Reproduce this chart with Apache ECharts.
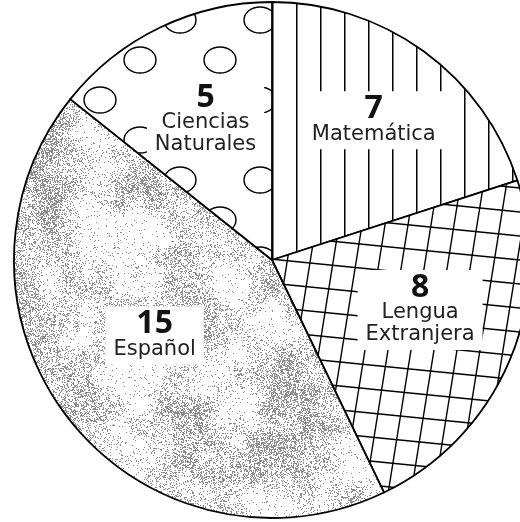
<!DOCTYPE html>
<html>
<head>
<meta charset="utf-8">
<script src="https://cdn.jsdelivr.net/npm/echarts@6/dist/echarts.min.js"></script>
<style>
  html, body { margin: 0; padding: 0; background: #fff; }
  #chart { width: 520px; height: 522px; }
</style>
</head>
<body>
<div id="chart"></div>
<script>
// Subjects and number of students per subject (clockwise from the top)
const subjects = ['Matemática', 'Lengua Extranjera', 'Español', 'Ciencias Naturales'];
const counts = [7, 8, 15, 5];

const W = 520, H = 522;
const CX = 272, CY = 260, R = 258;
// small hand-placed nudges for each label block (px)
const labelNudge = [[9, -12], [3, -12], [6, -23], [2, 2]];

// ---- fill textures -------------------------------------------------------
function makeCanvas(w, h) {
  const c = document.createElement('canvas');
  c.width = w; c.height = h;
  return c;
}

// vertical hatching
function verticalLines() {
  const c = makeCanvas(24, 4);
  const g = c.getContext('2d');
  g.fillStyle = '#fff'; g.fillRect(0, 0, 24, 4);
  g.fillStyle = '#000'; g.fillRect(8, 0, 1.5, 4);
  return c;
}

// skewed hand-drawn style mesh
function mesh() {
  const c = makeCanvas(W, H);
  const g = c.getContext('2d');
  g.fillStyle = '#fff'; g.fillRect(0, 0, W, H);
  g.strokeStyle = '#000'; g.lineWidth = 1.4;
  const gap = 24;
  for (let y0 = -200; y0 < H + 200; y0 += gap) {
    g.beginPath(); g.moveTo(0, y0); g.lineTo(W, y0 + 0.1 * W); g.stroke();
  }
  for (let x0 = -200; x0 < W + 300; x0 += gap - 1) {
    g.beginPath(); g.moveTo(x0, 0); g.lineTo(x0 - 0.16 * H, H); g.stroke();
  }
  return c;
}

// open rings, staggered rows
function rings() {
  const c = makeCanvas(80, 80);
  const g = c.getContext('2d');
  g.fillStyle = '#fff'; g.fillRect(0, 0, 80, 80);
  g.strokeStyle = '#000'; g.lineWidth = 1.4;
  const ring = (x, y) => { g.beginPath(); g.ellipse(x, y, 16, 13, 0, 0, Math.PI * 2); g.stroke(); };
  ring(20, 20); ring(60, 60); ring(60 - 80, 60); ring(20 + 80, 20);
  return c;
}

// clumpy grey speckle
function hash(x, y, s) {
  let h = (x * 374761393 + y * 668265263 + s * 982451653) | 0;
  h = Math.imul(h ^ (h >>> 13), 1274126177);
  h = h ^ (h >>> 16);
  return (h >>> 0) / 4294967296;
}
function valueNoise(x, y, cell, s) {
  const gx = Math.floor(x / cell), gy = Math.floor(y / cell);
  const fx = x / cell - gx, fy = y / cell - gy;
  const sx = fx * fx * (3 - 2 * fx), sy = fy * fy * (3 - 2 * fy);
  const a = hash(gx, gy, s), b = hash(gx + 1, gy, s), c = hash(gx, gy + 1, s), d = hash(gx + 1, gy + 1, s);
  return a + (b - a) * sx + (c - a) * sy + (a - b - c + d) * sx * sy;
}
function speckle() {
  const c = makeCanvas(W, H);
  const g = c.getContext('2d');
  const img = g.createImageData(W, H);
  for (let y = 0; y < H; y++) {
    for (let x = 0; x < W; x++) {
      const n = 0.6 * valueNoise(x, y, 46, 1) + 0.4 * valueNoise(x, y, 17, 2);
      const p = Math.min(0.52, Math.max(0.04, (n - 0.27) * 1.0));
      const on = hash(x, y, 3) < p;
      const i = (y * W + x) * 4;
      const v = on ? 140 : 255;
      img.data[i] = v; img.data[i + 1] = v; img.data[i + 2] = v; img.data[i + 3] = 255;
    }
  }
  g.putImageData(img, 0, 0);
  return c;
}

const fills = [
  { image: verticalLines(), repeat: 'repeat' },
  { image: mesh(), repeat: 'no-repeat' },
  { image: speckle(), repeat: 'no-repeat' },
  { image: rings(), repeat: 'repeat' }
];

// ---- chart ----------------------------------------------------------------
const total = counts.reduce((a, b) => a + b, 0);
const midAngles = [];
{
  let cum = 0;
  counts.forEach(v => {
    midAngles.push((90 - 360 * (cum + v / 2) / total) * Math.PI / 180);
    cum += v;
  });
}

const chart = echarts.init(document.getElementById('chart'), null, { renderer: 'canvas' });
chart.setOption({
  animation: false,
  backgroundColor: '#fff',
  series: [{
    type: 'pie',
    center: [CX, CY],
    radius: R,
    startAngle: 90,
    clockwise: true,
    silent: true,
    data: subjects.map((name, i) => ({
      name, value: counts[i],
      itemStyle: { color: fills[i] }
    })),
    itemStyle: { borderColor: '#000', borderWidth: 1.8 },
    label: {
      show: true,
      position: 'inside',
      backgroundColor: '#fff',
      padding: [4, 8],
      formatter: p => '{v|' + p.value + '}\n' + p.name.split(' ').map(w => '{n|' + w + '}').join('\n'),
      rich: {
        v: { fontFamily: 'Open Sans', fontWeight: 'bold', fontSize: 32, lineHeight: 28, color: '#111', align: 'center' },
        n: { fontFamily: 'DejaVu Sans', fontSize: 21, lineHeight: 22, color: '#222', align: 'center' }
      }
    },
    labelLine: { show: false },
    labelLayout: p => {
      const a = midAngles[p.dataIndex];
      const [nx, ny] = labelNudge[p.dataIndex];
      return { dx: 0.1 * R * Math.cos(a) + nx, dy: -0.1 * R * Math.sin(a) + ny };
    }
  }]
});
</script>
</body>
</html>
